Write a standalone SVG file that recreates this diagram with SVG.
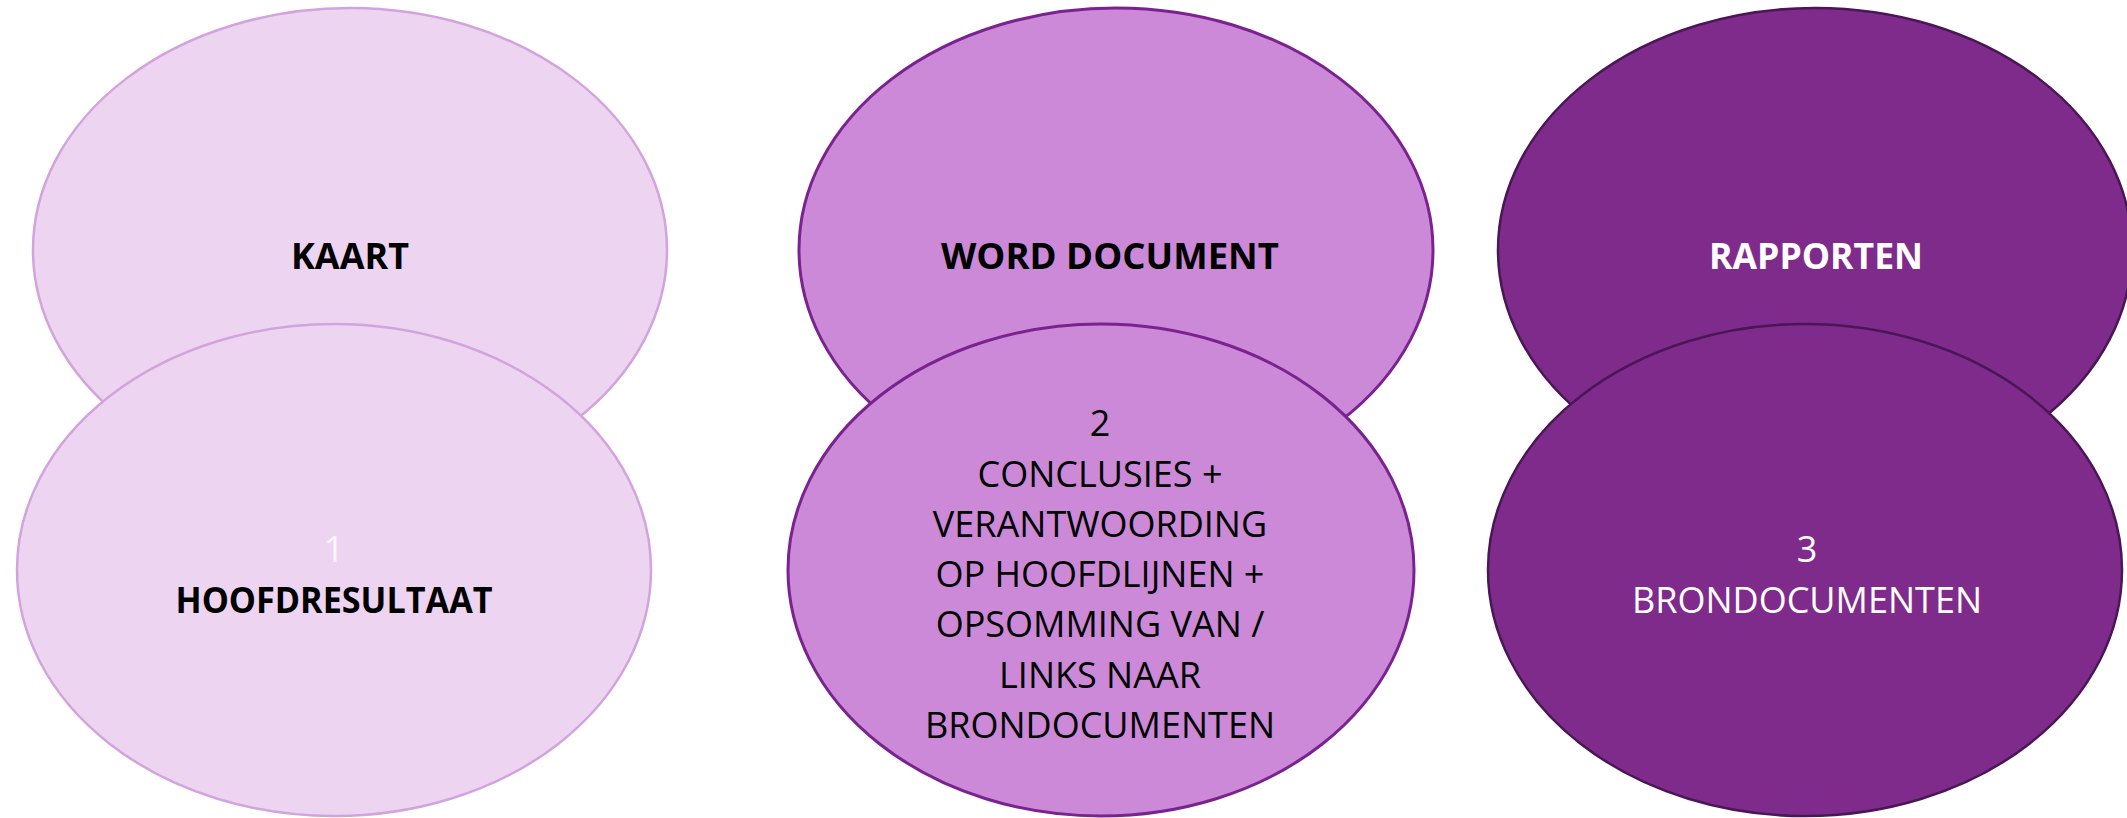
<svg xmlns="http://www.w3.org/2000/svg" width="2127" height="818" viewBox="0 0 2127 818">
<style>
.t{font-family:"Open Sans","Liberation Sans",sans-serif;text-anchor:middle}
.b{font-weight:bold;font-size:35px}
.r{font-size:36px}
.e1{fill:#EDD5F1;stroke:#D3A3DD;stroke-width:2.5}
.e2{fill:#CB89D7;stroke:#7A2290;stroke-width:3}
.e3{fill:#7F2B8C;stroke:#4A1656;stroke-width:2.5}
.k{fill:#000}
.w{fill:#fff}
</style>
<rect width="2127" height="818" fill="#fff"/>
<g id="node-kaart">
<ellipse class="e1" cx="350" cy="250" rx="317" ry="242"/>
<text class="t b k" x="350" y="269" textLength="118" lengthAdjust="spacingAndGlyphs">KAART</text>
</g>
<g id="node-hoofdresultaat">
<ellipse class="e1" cx="334" cy="570" rx="317" ry="246"/>
<text class="t r" x="334" y="562" fill="#fbf4fc">1</text>
<text class="t b k" x="334" y="613" textLength="317" lengthAdjust="spacingAndGlyphs">HOOFDRESULTAAT</text>
</g>
<g id="node-word">
<ellipse class="e2" cx="1116" cy="250" rx="317" ry="242"/>
<text class="t b k" x="1110" y="269" textLength="338" lengthAdjust="spacingAndGlyphs">WORD DOCUMENT</text>
</g>
<g id="node-conclusies">
<ellipse class="e2" cx="1101" cy="570" rx="313" ry="246"/>
<text class="t r k" x="1100" y="436">2</text>
<text class="t r k" x="1100" y="487">CONCLUSIES +</text>
<text class="t r k" x="1100" y="537">VERANTWOORDING</text>
<text class="t r k" x="1100" y="587">OP HOOFDLIJNEN +</text>
<text class="t r k" x="1100" y="637">OPSOMMING VAN /</text>
<text class="t r k" x="1100" y="688">LINKS NAAR</text>
<text class="t r k" x="1100" y="738">BRONDOCUMENTEN</text>
</g>
<g id="node-rapporten">
<ellipse class="e3" cx="1815" cy="250" rx="317" ry="242"/>
<text class="t b w" x="1816" y="269" textLength="214" lengthAdjust="spacingAndGlyphs">RAPPORTEN</text>
</g>
<g id="node-brondocumenten">
<ellipse class="e3" cx="1805" cy="570" rx="317" ry="246"/>
<text class="t r w" x="1807" y="562">3</text>
<text class="t r w" x="1807" y="613">BRONDOCUMENTEN</text>
</g>
<g id="connectors"></g>
</svg>
